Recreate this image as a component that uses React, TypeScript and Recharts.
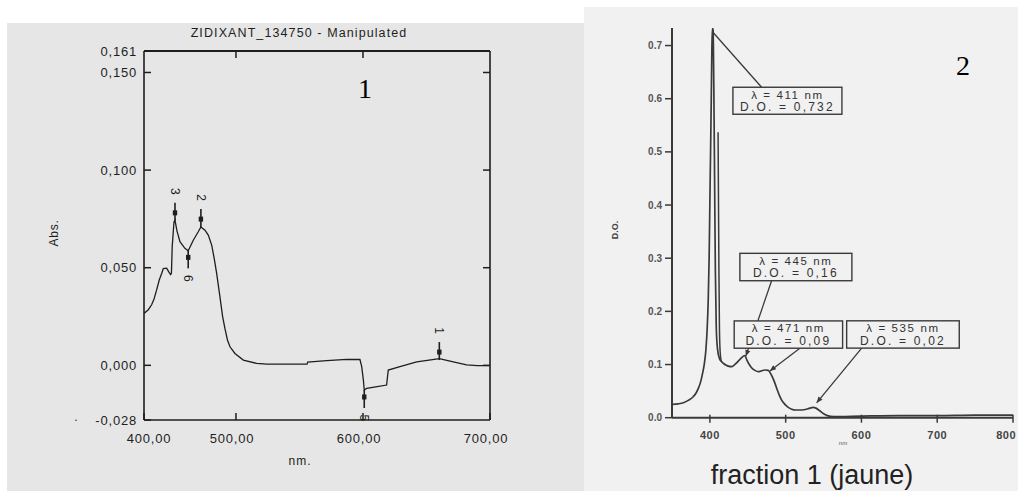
import React from 'react';
import { ComposedChart, Line, XAxis, YAxis, ReferenceDot } from 'recharts';

// ---------- Panel 1 : ZIDIXANT_134750 spectrum ----------
const wavelength1 = [427.6, 431, 433.6, 435.5, 437.5, 439.6, 441.5, 442.8, 445.4, 447.0, 448.5, 449.2, 449.8, 451.2, 452.0, 453.5, 455.9, 459.8, 462.4, 466.4, 470.3, 472.4, 475.6, 478.2, 480.9, 482.8, 484.8, 487.4, 489.5, 491.3, 493.3, 495.3, 499.2, 505.8, 516.3, 524.2, 540, 556.0, 556.5, 571.4, 587.2, 597.6, 599.0, 600.3, 601.0, 602.9, 610, 618.6, 619.9, 629.1, 642.3, 652, 660.1, 671.1, 681.6, 690, 700];
const absorbance1 = [0.0266, 0.0285, 0.031, 0.034, 0.0385, 0.0437, 0.047, 0.0496, 0.0498, 0.048, 0.0465, 0.0472, 0.0607, 0.0735, 0.0744, 0.069, 0.0633, 0.0599, 0.0587, 0.0641, 0.0684, 0.0709, 0.0692, 0.0667, 0.0616, 0.055, 0.0471, 0.0351, 0.025, 0.0189, 0.013, 0.0095, 0.0061, 0.0027, 0.001, 0.0006, 0.0006, 0.0006, 0.0017, 0.0024, 0.003, 0.003, -0.0007, -0.0075, -0.0126, -0.0118, -0.011, -0.0101, -0.0024, -0.0007, 0.0018, 0.0027, 0.0034, 0.0018, 0.0002, -0.0001, -0.0002];
const yTicks1 = [-0.028, 0, 0.05, 0.1, 0.15, 0.161];
const xTicks1 = [427.6, 500, 600, 700];
const xTickLabels1 = ['400,00', '500,00', '600,00', '700,00'];
const markerNm = [452.0, 472.4, 462.4, 601.0, 660.1];
const markerAbs = [0.0781, 0.0749, 0.0553, -0.0162, 0.0068];
const markerLabels = ['3', '2', '6', '5', '1'];
const markerBelow = [false, false, true, true, false];

// ---------- Panel 2 : fraction 1 (jaune) ----------
const wavelength2 = [350.6, 358, 365, 372, 378, 382, 385, 387.5, 390.3, 392.5, 394.7, 396.5, 397.8, 399, 400, 401, 401.8, 402.5, 403.2, 404.2, 405.2, 406.2, 407.2, 408.4, 410, 412.5, 415, 418, 421, 424.2, 428.6, 432, 435.2, 438.5, 442, 446, 449, 452, 455, 459.4, 463.8, 468, 472.6, 477, 480.5, 483, 485.8, 489, 492, 494.7, 499, 503.4, 508, 513, 518.8, 524, 530, 536.4, 540, 545, 549.6, 555, 563, 600, 650, 700, 750, 800];
const opticalDensity2 = [0.025, 0.026, 0.028, 0.033, 0.0395, 0.047, 0.056, 0.066, 0.083, 0.1, 0.127, 0.17, 0.221, 0.3, 0.409, 0.51, 0.597, 0.68, 0.732, 0.73, 0.62, 0.45, 0.28, 0.17, 0.13, 0.112, 0.106, 0.102, 0.099, 0.097, 0.096, 0.099, 0.103, 0.108, 0.113, 0.117, 0.108, 0.1, 0.094, 0.089, 0.0865, 0.088, 0.0897, 0.089, 0.082, 0.075, 0.065, 0.052, 0.041, 0.033, 0.025, 0.0195, 0.016, 0.0145, 0.0145, 0.015, 0.017, 0.0195, 0.018, 0.013, 0.008, 0.004, 0.002, 0.003, 0.004, 0.004, 0.005, 0.005];
const wavelength2b = [410.8, 411.3, 411.9, 412.6, 413.5, 415];
const opticalDensity2b = [0.537, 0.42, 0.28, 0.17, 0.125, 0.106];
const yTicks2 = [0, 0.1, 0.2, 0.3, 0.4, 0.5, 0.6, 0.7];
const xTicks2 = [400, 500, 600, 700, 800];
const peakAnchorNm = [404, 447.5, 479.2, 540.9];
const peakAnchorOd = [0.725, 0.116, 0.088, 0.028];
const peakLambdaText = ['λ = 411 nm', 'λ = 445 nm', 'λ = 471 nm', 'λ = 535 nm'];
const peakOdText = ['D.O. = 0,732', 'D.O. = 0,16', 'D.O. = 0,09', 'D.O. = 0,02'];

// ---------- layout / style (pixel offsets of the callout boxes from their anchor) ----------
const BOX_LAYOUT = [
  { x: 20, y: 55, w: 109, h: 27, lx: 48.7, ly: 55, arrow: false },
  { x: -6, y: -102.7, w: 112, h: 27.4, lx: 25.7, ly: -75.3, arrow: true },
  { x: -35.7, y: -50, w: 108.4, h: 27.3, lx: 30, ly: -22.7, arrow: true },
  { x: 30, y: -82, w: 112.6, h: 27.3, lx: 45, ly: -54.7, arrow: true },
];

const data1 = wavelength1.map((nm, i) => ({ nm, abs: absorbance1[i] }));
const data2 = wavelength2.map((nm, i) => ({ nm, od: opticalDensity2[i] }));
const data2b = wavelength2b.map((nm, i) => ({ nm, od: opticalDensity2b[i] }));

const SANS = '"Liberation Sans", Arial, sans-serif';
const SERIF = '"Liberation Serif", "Times New Roman", serif';
const INK1 = '#1e1e1e';
const INK2 = '#3a3a3a';
const BG1 = '#e6e6e6';
const BG2 = '#f1f1f1';

const fmt1 = (v: number) => v.toFixed(3).replace('.', ',');

const LeftTick1 = (p: any) => {
  const { x, y, payload } = p;
  return (
    <g>
      <line x1={x} x2={x + 7} y1={y} y2={y} stroke={INK1} strokeWidth={1.5} />
      <text x={x - 7} y={y} textAnchor="end" dominantBaseline="central" fontSize={13} letterSpacing={0.8} fill={INK1} fontFamily={SANS}>
        {fmt1(payload.value)}
      </text>
    </g>
  );
};
const RightTick1 = (p: any) => {
  const { x, y } = p;
  return <line x1={x} x2={x - 7} y1={y} y2={y} stroke={INK1} strokeWidth={1.5} />;
};
const TopTick1 = (p: any) => {
  const { x, y } = p;
  return <line x1={x} x2={x} y1={y} y2={y + 7} stroke={INK1} strokeWidth={1.5} />;
};
const BottomTick1 = (p: any) => {
  const { x, y, payload, index } = p;
  const i = xTicks1.indexOf(payload.value);
  const label = xTickLabels1[i >= 0 ? i : index] ?? '';
  const dx = i === 0 ? 5 : -4;
  return (
    <g>
      <line x1={x} x2={x} y1={y} y2={y - 7} stroke={INK1} strokeWidth={1.5} />
      <text x={x + dx} y={y + 18} textAnchor="middle" dominantBaseline="central" fontSize={13} letterSpacing={0.8} fill={INK1} fontFamily={SANS}>
        {label}
      </text>
    </g>
  );
};

const LeftTick2 = (p: any) => {
  const { x, y, payload } = p;
  return (
    <g>
      <line x1={x} x2={x - 7} y1={y} y2={y} stroke={INK2} strokeWidth={1.5} />
      <text x={x - 10} y={y} textAnchor="end" dominantBaseline="central" fontSize={10} fill="#555" fontFamily={SANS} fontWeight="bold">
        {payload.value.toFixed(1)}
      </text>
    </g>
  );
};
const BottomTick2 = (p: any) => {
  const { x, y, payload } = p;
  const last = payload.value === xTicks2[xTicks2.length - 1];
  return (
    <g>
      <line x1={x} x2={x} y1={y - 3} y2={y + 5} stroke={INK2} strokeWidth={1.5} />
      <text x={last ? x + 3 : x} y={y + 17} textAnchor={last ? 'end' : 'middle'} dominantBaseline="central" fontSize={11} fill="#444" fontFamily={SANS} fontWeight="bold" letterSpacing={0.5}>
        {payload.value}
      </text>
    </g>
  );
};

const markerShape = (i: number) => (p: any) => {
  const { cx, cy } = p;
  const below = markerBelow[i];
  const y1 = below ? cy - 7 : cy - 10;
  const y2 = below ? cy + 11 : cy + 8;
  const ly = below ? cy + 21 : cy - 21.5;
  return (
    <g>
      <line x1={cx} x2={cx} y1={y1} y2={y2} stroke={INK1} strokeWidth={1.6} />
      <rect x={cx - 2.2} y={cy - 2.5} width={4.4} height={5} fill={INK1} />
      <text x={cx} y={ly} transform={`rotate(90 ${cx} ${ly})`} textAnchor="middle" dominantBaseline="central" fontSize={12} fill={INK1} fontFamily={SANS}>
        {markerLabels[i]}
      </text>
    </g>
  );
};

const calloutShape = (i: number) => (p: any) => {
  const { cx, cy } = p;
  const b = BOX_LAYOUT[i];
  const sx = cx + b.lx;
  const sy = cy + b.ly;
  const ang = Math.atan2(cy - sy, cx - sx);
  const L = 6;
  const W = 2.6;
  const bx = cx - L * Math.cos(ang);
  const by = cy - L * Math.sin(ang);
  const px = -Math.sin(ang) * W;
  const py = Math.cos(ang) * W;
  const boxX = cx + b.x;
  const boxY = cy + b.y;
  return (
    <g>
      <line x1={sx} y1={sy} x2={cx} y2={cy} stroke={INK2} strokeWidth={1.3} />
      {b.arrow && (
        <polygon points={`${cx},${cy} ${bx + px},${by + py} ${bx - px},${by - py}`} fill={INK2} />
      )}
      <rect x={boxX} y={boxY} width={b.w} height={b.h} fill={BG2} stroke={INK2} strokeWidth={1.4} />
      <text x={boxX + b.w / 2} y={boxY + 7.5} textAnchor="middle" dominantBaseline="central" fontSize={11.5} letterSpacing={1.6} fill="#333" fontFamily={SANS}>
        {peakLambdaText[i]}
      </text>
      <text x={boxX + b.w / 2} y={boxY + 20} textAnchor="middle" dominantBaseline="central" fontSize={12} letterSpacing={2.2} fill="#333" fontFamily={SANS}>
        {peakOdText[i]}
      </text>
    </g>
  );
};

export default function App() {
  return (
    <div style={{ position: 'fixed', left: 0, top: 0, width: 1018, height: 491, overflow: 'hidden', background: '#ffffff' }}>
      <div style={{ position: 'absolute', left: 7, top: 23, width: 577, height: 468, background: BG1 }} />
      <div style={{ position: 'absolute', left: 584, top: 7, width: 434, height: 484, background: BG2 }} />

      <div style={{ position: 'absolute', left: 0, top: 0 }}>
        <ComposedChart width={584} height={491} data={data1} margin={{ top: 41, right: 84, bottom: 41, left: 84 }}>
          <XAxis dataKey="nm" type="number" domain={[427.6, 700]} ticks={xTicks1} allowDataOverflow
            height={30} tickSize={0} tickMargin={0} tickLine={false} axisLine={{ stroke: INK1, strokeWidth: 1.6 }} tick={<BottomTick1 />} interval={0} />
          <XAxis xAxisId="t" orientation="top" dataKey="nm" type="number" domain={[427.6, 700]} ticks={[500, 600]} allowDataOverflow
            height={10} tickSize={0} tickMargin={0} tickLine={false} axisLine={{ stroke: INK1, strokeWidth: 2 }} tick={<TopTick1 />} interval={0} />
          <YAxis type="number" domain={[-0.028, 0.161]} ticks={yTicks1} allowDataOverflow width={60}
            tickSize={0} tickMargin={0} tickLine={false} axisLine={{ stroke: INK1, strokeWidth: 1.6 }} tick={<LeftTick1 />} interval={0} />
          <YAxis yAxisId="r" orientation="right" type="number" domain={[-0.028, 0.161]} ticks={[0, 0.05, 0.1, 0.15]} allowDataOverflow width={10}
            tickSize={0} tickMargin={0} tickLine={false} axisLine={{ stroke: INK1, strokeWidth: 1.6 }} tick={<RightTick1 />} interval={0} />
          <Line xAxisId="t" yAxisId="r" dataKey="abs" stroke="none" dot={false} isAnimationActive={false} />
          <Line dataKey="abs" type="linear" stroke={INK1} strokeWidth={1.3} dot={false} isAnimationActive={false} />
          {markerNm.map((nm, i) => (
            <ReferenceDot key={`m${i}`} x={nm} y={markerAbs[i]} r={3} ifOverflow="visible" shape={markerShape(i)} />
          ))}
        </ComposedChart>
      </div>

      <div style={{ position: 'absolute', left: 584, top: 7 }}>
        <ComposedChart width={434} height={484} margin={{ top: 21, right: 5, bottom: 43.3, left: 48 }}>
          <XAxis dataKey="nm" type="number" domain={[350, 800]} ticks={xTicks2} allowDataOverflow
            height={30} tickSize={0} tickMargin={0} tickLine={false} axisLine={{ stroke: INK2, strokeWidth: 2 }} tick={<BottomTick2 />} interval={0} />
          <YAxis type="number" domain={[0, 0.733]} ticks={yTicks2} allowDataOverflow width={40}
            tickSize={0} tickMargin={0} tickLine={false} axisLine={{ stroke: INK2, strokeWidth: 2 }} tick={<LeftTick2 />} interval={0} />
          <Line data={data2} dataKey="od" type="monotone" stroke={INK2} strokeWidth={1.7} dot={false} isAnimationActive={false} />
          <Line data={data2b} dataKey="od" type="monotone" stroke={INK2} strokeWidth={1.5} dot={false} isAnimationActive={false} />
          {peakAnchorNm.map((nm, i) => (
            <ReferenceDot key={`c${i}`} x={nm} y={peakAnchorOd[i]} r={2} ifOverflow="visible" shape={calloutShape(i)} />
          ))}
        </ComposedChart>
      </div>

      <svg width={1018} height={491} style={{ position: 'absolute', left: 0, top: 0, pointerEvents: 'none' }}>
        <text x={299} y={33} textAnchor="middle" dominantBaseline="central" fontSize={12.5} letterSpacing={1.1} fill={INK1} fontFamily={SANS}>
          ZIDIXANT_134750 - Manipulated
        </text>
        <text x={54} y={233} transform="rotate(-90 54 233)" textAnchor="middle" dominantBaseline="central" fontSize={12} letterSpacing={0.8} fill={INK1} fontFamily={SANS}>
          Abs.
        </text>
        <text x={300} y={461} textAnchor="middle" dominantBaseline="central" fontSize={12} letterSpacing={1} fill={INK1} fontFamily={SANS}>
          nm.
        </text>
        <text x={365} y={88} textAnchor="middle" dominantBaseline="central" fontSize={28} fill="#000" fontFamily={SERIF}>
          1
        </text>
        <text x={76} y={421} textAnchor="middle" fontSize={12} fill={INK1} fontFamily={SANS}>.</text>

        <text x={615} y={230} transform="rotate(-90 615 230)" textAnchor="middle" dominantBaseline="central" fontSize={9} fill="#444" fontFamily={SANS} fontWeight="bold">
          D.O.
        </text>
        <text x={843} y={443} textAnchor="middle" dominantBaseline="central" fontSize={6} fill="#555" fontFamily={SANS}>
          nm
        </text>
        <text x={963} y={65} textAnchor="middle" dominantBaseline="central" fontSize={28} fill="#000" fontFamily={SERIF}>
          2
        </text>
        <text x={812} y={484} textAnchor="middle" fontSize={27} fill="#222" fontFamily={SANS}>
          fraction 1 (jaune)
        </text>
      </svg>
    </div>
  );
}
